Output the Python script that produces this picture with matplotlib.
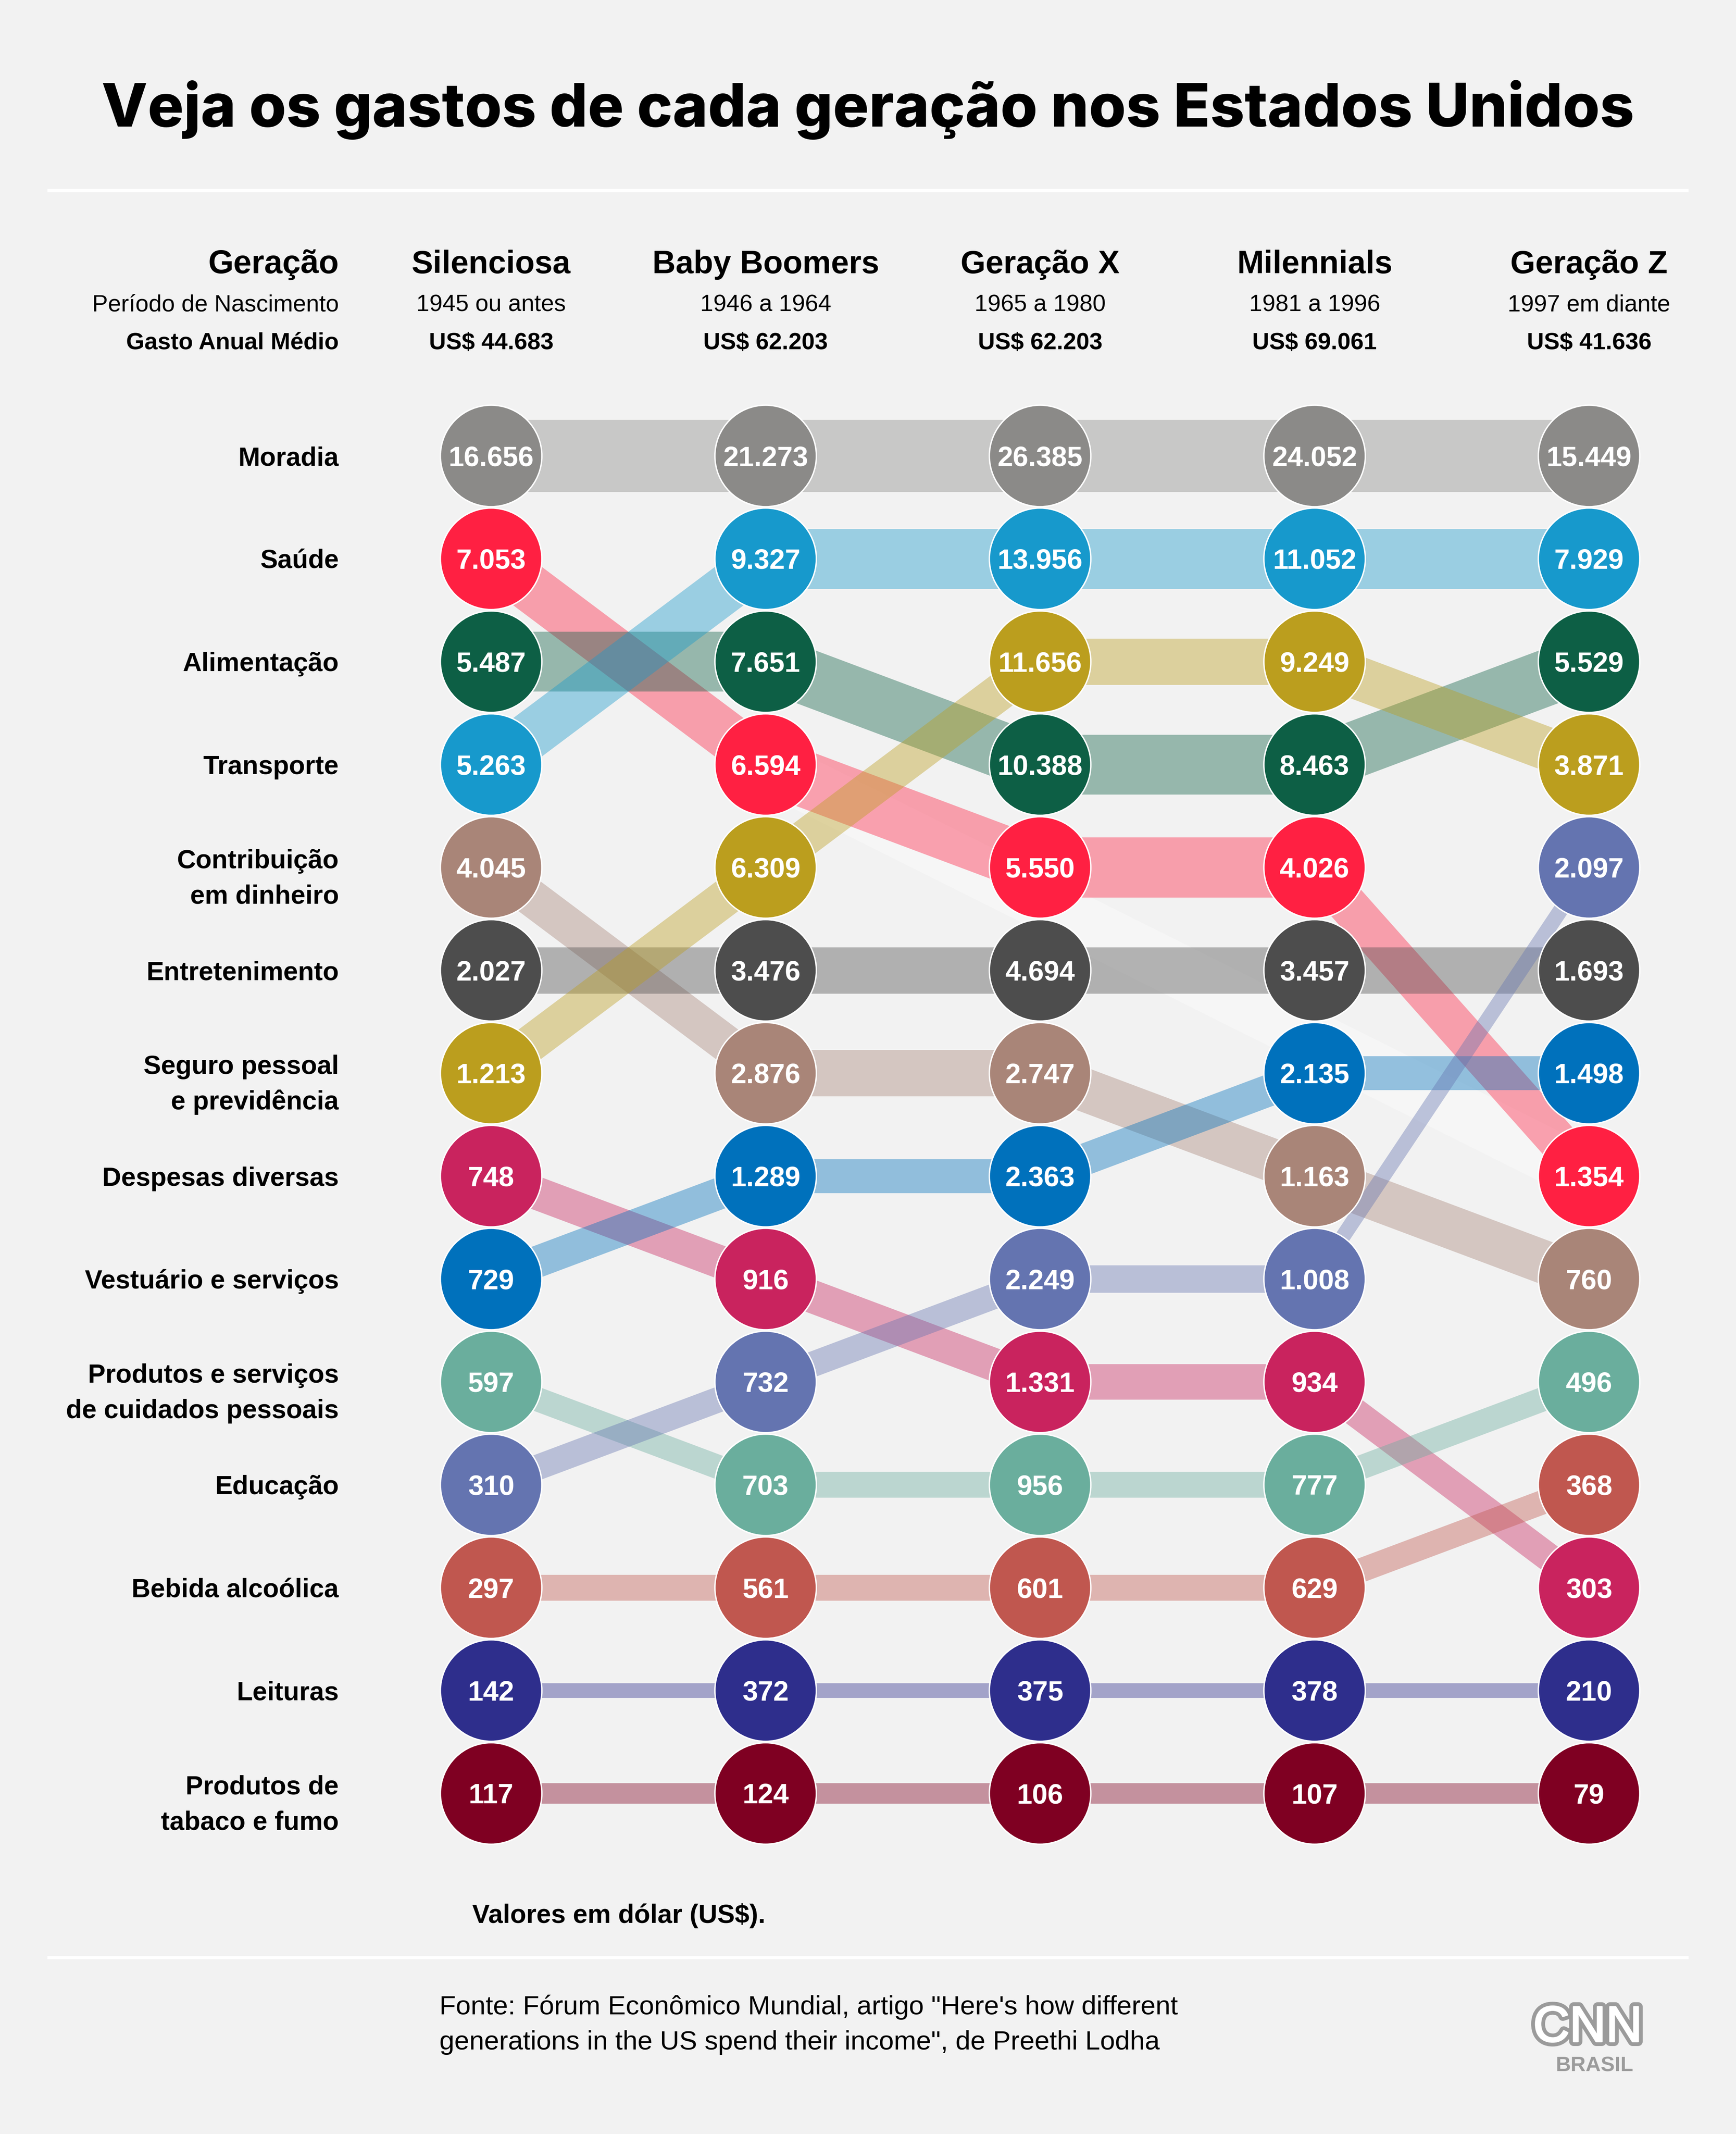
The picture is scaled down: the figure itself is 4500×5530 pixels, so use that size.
import matplotlib
matplotlib.use("Agg")
import matplotlib.pyplot as plt
from matplotlib.patches import Circle, Polygon
import matplotlib.patheffects as pe
import numpy as np

plt.rcParams['font.family'] = ['Liberation Sans', 'DejaVu Sans']

# --- data ---
generations = ["Silenciosa", "Baby Boomers", "Geração X", "Milennials", "Geração Z"]
periods = ["1945 ou antes", "1946 a 1964", "1965 a 1980", "1981 a 1996", "1997 em diante"]
annual_spend = ["US$ 44.683", "US$ 62.203", "US$ 62.203", "US$ 69.061", "US$ 41.636"]

categories = ["Moradia", "Saúde", "Alimentação", "Transporte", "Contribuição\nem dinheiro",
              "Entretenimento", "Seguro pessoal\ne previdência", "Despesas diversas",
              "Vestuário e serviços", "Produtos e serviços\nde cuidados pessoais", "Educação",
              "Bebida alcoólica", "Leituras", "Produtos de\ntabaco e fumo"]

silenciosa = [16656, 7053, 5487, 5263, 4045, 2027, 1213, 748, 729, 597, 310, 297, 142, 117]
baby_boomers = [21273, 6594, 7651, 9327, 2876, 3476, 6309, 916, 1289, 703, 732, 561, 372, 124]
geracao_x = [26385, 5550, 10388, 13956, 2747, 4694, 11656, 1331, 2363, 956, 2249, 601, 375, 106]
millennials = [24052, 4026, 8463, 11052, 1163, 3457, 9249, 934, 2135, 777, 1008, 629, 378, 107]
geracao_z = [15449, 1354, 5529, 7929, 760, 1693, 3871, 303, 1498, 496, 2097, 368, 210, 79]

colors = ["#8b8a88", "#ff2042", "#0d5f45", "#1799cc", "#a98578", "#4d4d4d", "#bb9e1e",
          "#c9235e", "#0071bc", "#6aae9d", "#6474b0", "#c0574f", "#2e2e8c", "#7f0022"]

# band thickness per category (style)
band_heights = [53, 44, 44, 44, 34, 34, 34, 26, 25, 19, 20, 19, 11, 15]

values = np.array([silenciosa, baby_boomers, geracao_x, millennials, geracao_z])

# --- layout (in reference pixel units) ---
W, H = 1276, 1568
bg = "#f2f2f2"
col_x0, col_step = 361, 201.75
row_y0, row_step = 335, 75.6
radius = 37.3
label_x = 249

fig = plt.figure(figsize=(45, 55.3), dpi=100, facecolor=bg)
ax = fig.add_axes([0, 0, 1, 1])
ax.set_xlim(0, W)
ax.set_ylim(H, 0)
ax.axis("off")
ax.set_facecolor(bg)


def fmt(v):
    return f"{v:,}".replace(",", ".")


# rank of each category in each generation
ranks = np.zeros_like(values)
for g in range(values.shape[0]):
    order = np.argsort(-values[g])
    ranks[g, order] = np.arange(len(order))

xs = col_x0 + col_step * np.arange(len(generations))


def ypos(r):
    return row_y0 + row_step * r


def band(x1, y1, x2, y2, h, **kw):
    h = h / 2
    ax.add_patch(Polygon([(x1, y1 - h), (x2, y2 - h), (x2, y2 + h), (x1, y1 + h)],
                         closed=True, lw=0, **kw))


# faint white ghost band (Saúde, Baby Boomers -> Geração Z)
band(xs[1], ypos(ranks[1, 1]), xs[4], ypos(ranks[4, 1]), 44, facecolor="white", alpha=0.35, zorder=1)

# bands
for c in range(len(categories)):
    for g in range(len(generations) - 1):
        band(xs[g], ypos(ranks[g, c]), xs[g + 1], ypos(ranks[g + 1, c]), band_heights[c],
             facecolor=colors[c], alpha=0.4, zorder=2)

# circles and values
for g in range(len(generations)):
    for c in range(len(categories)):
        y = ypos(ranks[g, c])
        ax.add_patch(Circle((xs[g], y), radius, facecolor=colors[c], edgecolor="white", lw=2.6, zorder=3))
        ax.text(xs[g], y + 7.3, fmt(values[g, c]), color="white", fontsize=52, fontweight="bold",
                ha="center", va="baseline", zorder=4)

# row labels (Silenciosa order)
for c in range(len(categories)):
    y = ypos(ranks[0, c])
    lines = categories[c].split("\n")
    if len(lines) == 1:
        ax.text(label_x, y + 7, lines[0], fontsize=49, fontweight="bold", ha="right", va="baseline")
    else:
        ax.text(label_x, y + 0.5, lines[0], fontsize=49, fontweight="bold", ha="right", va="baseline")
        ax.text(label_x, y + 26.5, lines[1], fontsize=49, fontweight="bold", ha="right", va="baseline")

# header
ax.text(label_x, 200.8, "Geração", fontsize=61, fontweight="bold", ha="right", va="baseline")
ax.text(label_x, 228.7, "Período de Nascimento", fontsize=44, ha="right", va="baseline")
ax.text(label_x, 256.5, "Gasto Anual Médio", fontsize=44, fontweight="bold", ha="right", va="baseline")
for g in range(len(generations)):
    ax.text(xs[g], 200.8, generations[g], fontsize=60, fontweight="bold", ha="center", va="baseline")
    ax.text(xs[g], 228.7, periods[g], fontsize=44, ha="center", va="baseline")
    ax.text(xs[g], 256.5, annual_spend[g], fontsize=44, fontweight="bold", ha="center", va="baseline")

# title
ax.text(638, 93, "Veja os gastos de cada geração nos Estados Unidos", fontsize=112,
        fontweight="heavy", ha="center", va="baseline", family=["Inter", "Liberation Sans", "DejaVu Sans"])

# separators
ax.plot([35, 1241], [140, 140], color="white", lw=6, solid_capstyle="butt", zorder=0)
ax.plot([35, 1241], [1438.5, 1438.5], color="white", lw=6, solid_capstyle="butt", zorder=0)

# notes and source
ax.text(347, 1413, "Valores em dólar (US$).", fontsize=49, fontweight="bold", ha="left", va="baseline")
ax.text(323, 1480, "Fonte: Fórum Econômico Mundial, artigo \"Here's how different", fontsize=50,
        ha="left", va="baseline")
ax.text(323, 1506, "generations in the US spend their income\", de Preethi Lodha", fontsize=50,
        ha="left", va="baseline")

# logo
logo_gray = "#9b9b9b"
ax.text(1167, 1500, "CNN", fontsize=94, fontweight="normal", color="white", ha="center", va="baseline",
        path_effects=[pe.Stroke(linewidth=17, foreground=logo_gray), pe.Stroke(linewidth=3, foreground="white"),
                      pe.Normal()])
ax.text(1172, 1522, "BRASIL", fontsize=39, fontweight="bold", color=logo_gray, ha="center", va="baseline")

fig.savefig("out.png", dpi=100, facecolor=bg)
